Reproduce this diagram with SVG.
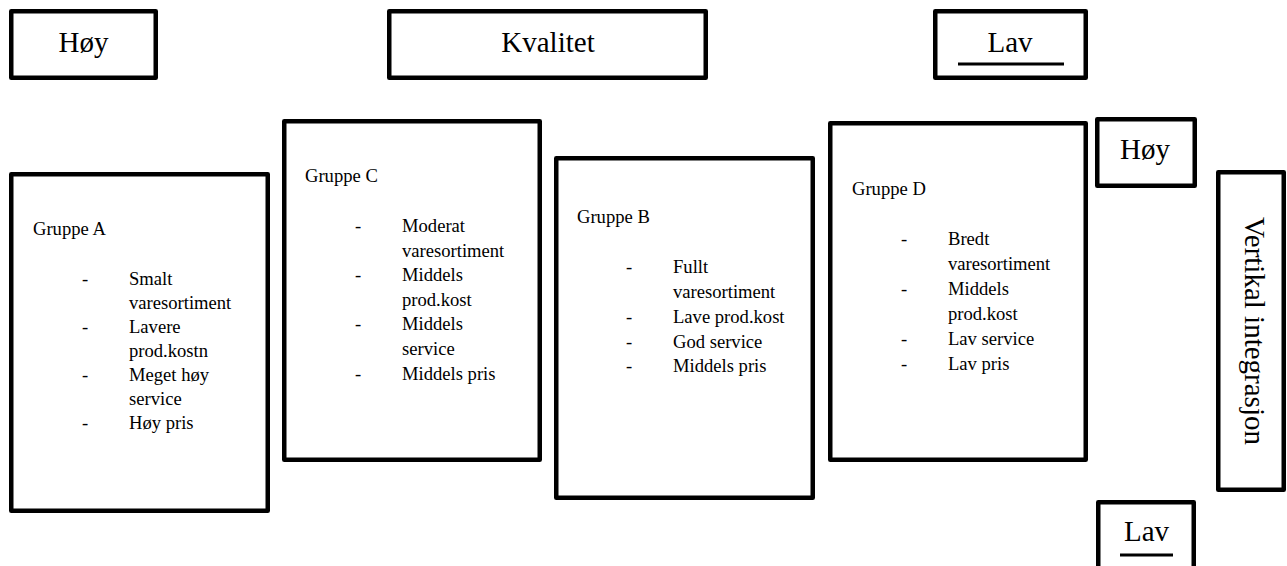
<svg xmlns="http://www.w3.org/2000/svg" width="1287" height="566" viewBox="0 0 1287 566">
<style>
.box{fill:#fff;stroke:#000;stroke-width:4.5;stroke-linejoin:round}
text{font-family:'Liberation Serif',Tinos,'Times New Roman',Times,serif;fill:#000}
.lbl{font-size:29px}
.t{font-size:18.6px}
.ul{stroke:#000;stroke-width:3}
</style>
<rect width="1287" height="566" fill="#fff"/>
<g id="hoy-top">
<rect class="box" x="11.25" y="11.25" width="144.5" height="66.5"/>
<text class="lbl" x="83.5" y="52" text-anchor="middle">Høy</text>
</g>
<g id="kvalitet">
<rect class="box" x="389.25" y="11.25" width="316.5" height="66.5"/>
<text class="lbl" x="548" y="52" text-anchor="middle">Kvalitet</text>
</g>
<g id="lav-top">
<rect class="box" x="935.25" y="11.25" width="150.5" height="66.5"/>
<text class="lbl" x="1010" y="52" text-anchor="middle">Lav</text>
<line class="ul" x1="958" y1="64" x2="1064" y2="64"/>
</g>
<g id="hoy-right">
<rect class="box" x="1097.25" y="119.25" width="97.5" height="66.5"/>
<text class="lbl" x="1145" y="159" text-anchor="middle">Høy</text>
</g>
<g id="vertikal">
<rect class="box" x="1218.25" y="172.25" width="65.5" height="317.5"/>
<text class="lbl" transform="translate(1245,331) rotate(90)" text-anchor="middle">Vertikal integrasjon</text>
</g>
<g id="lav-bottom">
<rect class="box" x="1098.25" y="502.25" width="95.5" height="80"/>
<text class="lbl" x="1146.5" y="541" text-anchor="middle">Lav</text>
<line class="ul" x1="1120" y1="555" x2="1173" y2="555"/>
</g>
<g id="gruppe-a">
<rect class="box" x="11.25" y="174.25" width="256.5" height="336.5"/>
<text class="t" x="33" y="235">Gruppe A</text>
<text class="t" x="82" y="285">-</text><text class="t" x="129" y="285">Smalt</text>
<text class="t" x="129" y="309">varesortiment</text>
<text class="t" x="82" y="333">-</text><text class="t" x="129" y="333">Lavere</text>
<text class="t" x="129" y="357">prod.kostn</text>
<text class="t" x="82" y="381">-</text><text class="t" x="129" y="381">Meget høy</text>
<text class="t" x="129" y="405">service</text>
<text class="t" x="82" y="429">-</text><text class="t" x="129" y="429">Høy pris</text>
</g>
<g id="gruppe-c">
<rect class="box" x="284.25" y="121.25" width="255.5" height="338.5"/>
<text class="t" x="305" y="182">Gruppe C</text>
<text class="t" x="355" y="232">-</text><text class="t" x="402" y="232">Moderat</text>
<text class="t" x="402" y="257">varesortiment</text>
<text class="t" x="355" y="281">-</text><text class="t" x="402" y="281">Middels</text>
<text class="t" x="402" y="306">prod.kost</text>
<text class="t" x="355" y="330">-</text><text class="t" x="402" y="330">Middels</text>
<text class="t" x="402" y="355">service</text>
<text class="t" x="355" y="380">-</text><text class="t" x="402" y="380">Middels pris</text>
</g>
<g id="gruppe-b">
<rect class="box" x="556.25" y="158.25" width="256.5" height="339.5"/>
<text class="t" x="577" y="223">Gruppe B</text>
<text class="t" x="626" y="273">-</text><text class="t" x="673" y="273">Fullt</text>
<text class="t" x="673" y="298">varesortiment</text>
<text class="t" x="626" y="323">-</text><text class="t" x="673" y="323">Lave prod.kost</text>
<text class="t" x="626" y="348">-</text><text class="t" x="673" y="348">God service</text>
<text class="t" x="626" y="372">-</text><text class="t" x="673" y="372">Middels pris</text>
</g>
<g id="gruppe-d">
<rect class="box" x="830.25" y="123.25" width="255.5" height="336.5"/>
<text class="t" x="852" y="195">Gruppe D</text>
<text class="t" x="901" y="245">-</text><text class="t" x="948" y="245">Bredt</text>
<text class="t" x="948" y="270">varesortiment</text>
<text class="t" x="901" y="295">-</text><text class="t" x="948" y="295">Middels</text>
<text class="t" x="948" y="320">prod.kost</text>
<text class="t" x="901" y="345">-</text><text class="t" x="948" y="345">Lav service</text>
<text class="t" x="901" y="370">-</text><text class="t" x="948" y="370">Lav pris</text>
</g>
<g id="connectors"/>
</svg>
